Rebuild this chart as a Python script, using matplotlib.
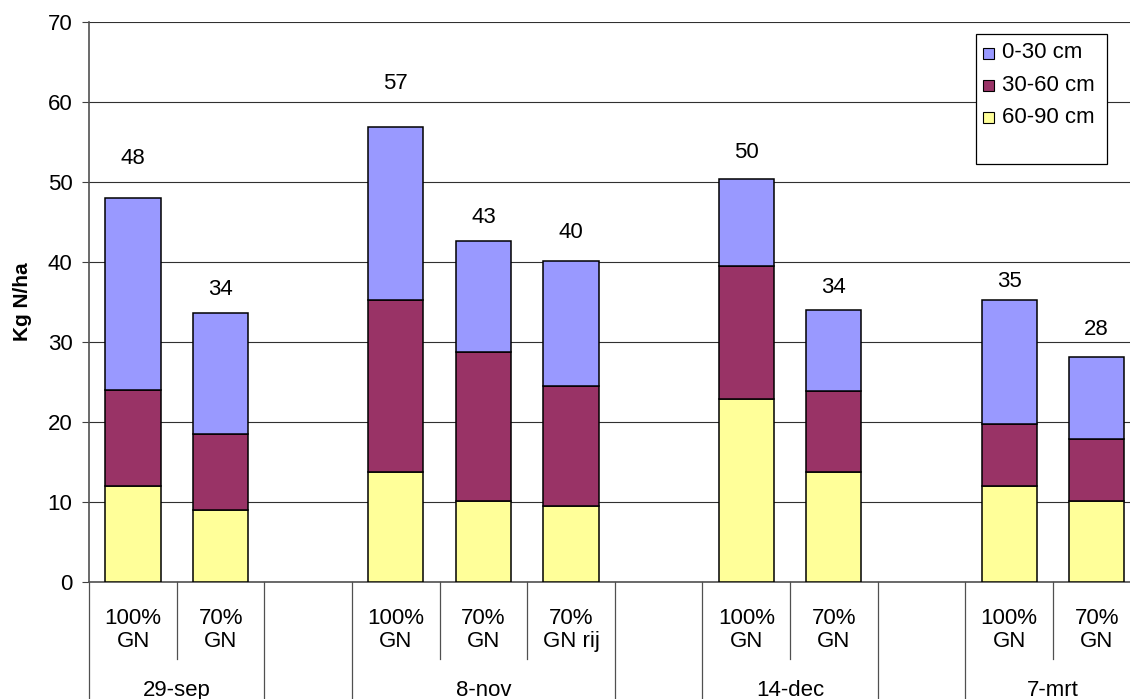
import numpy as np
import matplotlib
matplotlib.use("Agg")
import matplotlib.pyplot as plt
from matplotlib.patches import Rectangle

plt.rcParams["font.family"] = ["Liberation Sans", "DejaVu Sans"]

# ── data: mineral N per soil layer (kg N/ha) ────────────────────────────────
dates       = ["29-sep", "8-nov", "14-dec", "7-mrt"]
treatments  = [["100%\nGN", "70%\nGN"],
               ["100%\nGN", "70%\nGN", "70%\nGN rij"],
               ["100%\nGN", "70%\nGN"],
               ["100%\nGN", "70%\nGN"]]
layers      = ["0-30 cm", "30-60 cm", "60-90 cm"]

n_60_90 = [12.0, 9.0, 13.8, 10.1, 9.5, 22.8, 13.8, 12.0, 10.1]
n_30_60 = [12.0, 9.5, 21.4, 18.6, 15.0, 16.7, 10.1, 7.7, 7.8]
n_0_30  = [24.0, 15.1, 21.7, 13.9, 15.6, 10.8, 10.1, 15.5, 10.2]

colours = {"0-30 cm": "#9999FF", "30-60 cm": "#993366", "60-90 cm": "#FFFF99"}

# ── slot layout: one empty slot between sampling dates ──────────────────────
slots, group_spans = [], []
pos = 0
for grp in treatments:
    group_spans.append((pos, pos + len(grp)))
    slots.extend(range(pos, pos + len(grp)))
    pos += len(grp) + 1
n_slots = pos - 1
x = np.array(slots) + 0.5
tick_text = [t for grp in treatments for t in grp]

lo  = np.array(n_60_90)
mid = np.array(n_30_60)
top = np.array(n_0_30)
total = lo + mid + top

FS = 16

fig = plt.figure(figsize=(11.3, 6.99), dpi=100)
ax = fig.add_axes([0.079, 0.1674, 0.9303, 0.8016])

bw = 0.63
kw = dict(width=bw, edgecolor="black", linewidth=1.1, zorder=3)
ax.bar(x, lo, color=colours["60-90 cm"], **kw)
ax.bar(x, mid, bottom=lo, color=colours["30-60 cm"], **kw)
ax.bar(x, top, bottom=lo + mid, color=colours["0-30 cm"], **kw)

# totals above each stack
label_pad = [4.9, 2.9, 5.4, 2.9, 3.5, 3.4, 2.8, 2.4, 3.5]
for xi, tot, pad in zip(x, total, label_pad):
    ax.text(xi, tot + pad, f"{tot:.0f}", ha="center", va="center", fontsize=FS)

ax.set_xlim(0, n_slots)
ax.set_ylim(0, 70)
ax.set_yticks(np.arange(0, 71, 10))
ax.tick_params(axis="y", labelsize=FS, length=5, width=0.8, color="#404040", pad=7)
ax.set_xticks([])
ax.yaxis.grid(True, color="#303030", linewidth=0.8, zorder=0)
ax.set_axisbelow(True)
for side in ("top", "right"):
    ax.spines[side].set_visible(False)
for side in ("left", "bottom"):
    ax.spines[side].set_color("#505050")
    ax.spines[side].set_linewidth(1.2)

# two-level category axis
trans = ax.get_xaxis_transform()
for xi, t in zip(x, tick_text):
    ax.text(xi, -0.086, t, transform=trans, ha="center", va="center",
            fontsize=FS, linespacing=1.12)
long_edges = set()
for (a, b), d in zip(group_spans, dates):
    ax.text((a + b) / 2, -0.193, d, transform=trans, ha="center", va="center",
            fontsize=FS, clip_on=False)
    long_edges.update([a, b])
for edge in range(0, n_slots + 1):
    y_end = -0.24 if edge in long_edges else -0.138
    ax.plot([edge, edge], [0, y_end], transform=trans, color="#505050",
            linewidth=0.9, clip_on=False)

fig.text(0.0195, 1 - 302 / 699, "Kg N/ha", rotation=90, ha="center", va="center",
         fontsize=15, fontweight="bold")

# legend box
W, H = 1130, 699
fig.patches.append(Rectangle((975.7 / W, 1 - 164 / H), 131 / W, 129.7 / H,
                             transform=fig.transFigure, facecolor="white",
                             edgecolor="black", linewidth=0.9, zorder=5))
for i, lbl in enumerate(layers):
    yc = 53 + i * 32.3
    fig.patches.append(Rectangle((983 / W, 1 - (yc + 5.5) / H), 11 / W, 11 / H,
                                 transform=fig.transFigure, facecolor=colours[lbl],
                                 edgecolor="black", linewidth=0.8, zorder=6))
    fig.text(1002 / W, 1 - yc / H, lbl, ha="left", va="center", fontsize=FS, zorder=7)

fig.savefig("out.png", dpi=100)
